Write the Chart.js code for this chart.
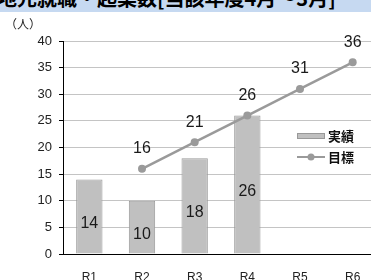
<!DOCTYPE html>
<html><head><meta charset="utf-8">
<script src="https://cdn.jsdelivr.net/npm/chart.js@4"></script>
<style>
html,body{margin:0;padding:0;width:371px;height:280px;overflow:hidden;background:#fff;}
#wrap{position:relative;width:371px;height:280px;overflow:hidden;}
#title{position:absolute;left:0;top:0;width:371px;height:12px;background:#c6d9f1;overflow:hidden;z-index:2;}
#title span{position:absolute;left:-3px;top:-12px;font:bold 20px/20px "Noto Sans CJK JP";white-space:nowrap;color:#000;}
#unit{position:absolute;left:5px;top:16px;font:12px/16px "Noto Sans CJK JP";color:#222;z-index:2;}
canvas{position:absolute;left:0;top:0;}
</style></head>
<body><div id="wrap">
<div id="title"><span>地元就職・起業数[当該年度4月～3月]</span></div>
<div id="unit">（人）</div>
<canvas id="c" width="392" height="280" style="width:392px;height:280px"></canvas>
</div>
<script>
const categories = ['R1','R2','R3','R4','R5','R6'];
const actual = [14, 10, 18, 26, null, null];
const target = [null, 16, 21, 26, 31, 36];
const seriesNames = ['実績','目標'];
const yTicks = [0,5,10,15,20,25,30,35,40];

const FONT = '"Liberation Sans","Noto Sans CJK JP",sans-serif';

const labelPlugin = {
  id:'labels',
  afterDatasetsDraw(chart){
    const ctx = chart.ctx;
    ctx.save();
    ctx.font = '16px ' + FONT;
    ctx.fillStyle = '#1a1a1a';
    ctx.textAlign = 'center';
    ctx.textBaseline = 'middle';
    const bm = chart.getDatasetMeta(1);
    bm.data.forEach((el,i)=>{
      const v = actual[i]; if (v == null) return;
      ctx.fillText(String(v), el.x, (el.y + el.base)/2 + 7);
    });
    const lm = chart.getDatasetMeta(0);
    lm.data.forEach((el,i)=>{
      const v = target[i]; if (v == null) return;
      ctx.fillText(String(v), el.x, el.y - 20);
    });
    // legend
    ctx.fillStyle = '#c0c0c0';
    ctx.strokeStyle = '#999';
    ctx.lineWidth = 1;
    ctx.fillRect(297.5, 133.5, 27, 5);
    ctx.strokeRect(297.5, 133.5, 27, 5);
    ctx.strokeStyle = '#9a9a9a';
    ctx.lineWidth = 2;
    ctx.beginPath(); ctx.moveTo(297, 157); ctx.lineTo(325, 157); ctx.stroke();
    ctx.fillStyle = '#9a9a9a';
    ctx.beginPath(); ctx.arc(311, 157, 3.5, 0, Math.PI*2); ctx.fill();
    ctx.fillStyle = '#111';
    ctx.textAlign = 'left';
    ctx.font = 'bold 13px "Noto Sans CJK JP"';
    ctx.fillText(seriesNames[0], 328, 136);
    ctx.fillText(seriesNames[1], 328, 157);
    ctx.restore();
  }
};

new Chart(document.getElementById('c'), {
  data: {
    labels: categories,
    datasets: [
      { type:'line', label: seriesNames[1], data: target, order:0,
        borderColor:'#9a9a9a', backgroundColor:'#9a9a9a', borderWidth:2.5,
        pointRadius:4, pointBackgroundColor:'#9a9a9a', pointBorderWidth:0, spanGaps:false },
      { type:'bar', label: seriesNames[0], data: actual, order:1,
        backgroundColor:'#c0c0c0', borderColor:'#9a9a9a', borderWidth:1,
        categoryPercentage:1, barPercentage:0.5 }
    ]
  },
  options: {
    responsive:false, animation:false,
    layout:{ padding:{ left:0, top:41, right:13, bottom:0 } },
    plugins:{ legend:{display:false}, tooltip:{enabled:false} },
    scales:{
      x:{
        offset:true,
        grid:{ display:false, drawTicks:false },
        border:{ color:'#000', width:1 },
        ticks:{ padding:16, color:'#222', font:{ size:12, family:FONT } },
        afterFit(s){ s.height = 26; }
      },
      y:{
        min:0, max:40,
        afterBuildTicks(s){ s.ticks = yTicks.map(v=>({value:v})); },
        grid:{ color:'#c4c4c4', borderDash:[5,3], tickColor:'#000', tickBorderDash:[], tickLength:4, drawTicks:true },
        border:{ color:'#000', width:1 },
        ticks:{ padding:7, color:'#222', font:{ size:13, family:FONT } },
        afterFit(s){ s.width = 63; }
      }
    }
  },
  plugins:[labelPlugin]
});
</script>
</body></html>
